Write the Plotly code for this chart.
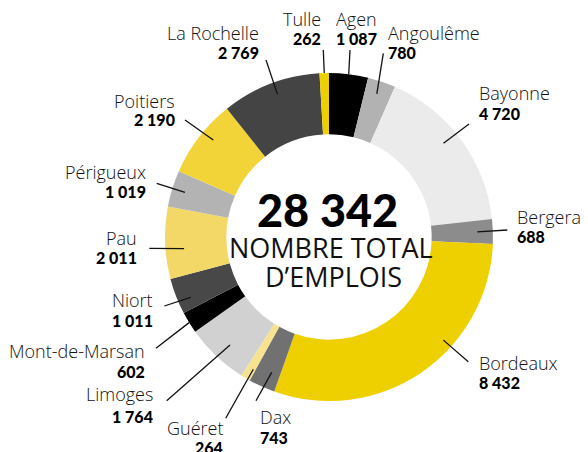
import math
import plotly.graph_objects as go

# ---------------- data ----------------
cities = ["Agen", "Angoulême", "Bayonne", "Bergerac", "Bordeaux", "Dax", "Guéret",
          "Limoges", "Mont-de-Marsan", "Niort", "Pau", "Périgueux", "Poitiers",
          "La Rochelle", "Tulle"]
jobs = [1087, 780, 4720, 688, 8432, 743, 264, 1764, 602, 1011, 2011, 1019, 2190, 2769, 262]
value_labels = ["1 087", "780", "4 720", "688", "8 432", "743", "264", "1 764", "602",
                "1 011", "2 011", "1 019", "2 190", "2 769", "262"]
total_label = "28 342"
center_lines = ["NOMBRE TOTAL", "D’EMPLOIS"]

# ---------------- styles / layout ----------------
colors = ["#000000", "#b2b2b2", "#ebebeb", "#8c8c8c", "#eecf00", "#717171", "#f6e28f",
          "#d1d1d1", "#000000", "#484848", "#f3d867", "#b3b3b3", "#f2d438", "#444444", "#eecf00"]

W, H = 588, 452
OFF = 8  # the page body adds an 8px margin; positions below are in window pixels
CX, CY, R = 329, 237, 164
HOLE = 0.626

# label placement (window pixels): anchor x, align, name centre y, value centre y,
# leader outer end (x, y), leader inner position within slice (fraction, radius)
label_layout = {
    "Tulle":          (323, "right", 19.0, 38.7, (323.3, 50.0), (0.5, 164)),
    "Agen":           (334, "left", 19.0, 38.7, (350.0, 50.0), (0.5, 164)),
    "Angoulême":      (386, "left", 33.0, 52.0, (383.3, 53.3), (0.47, 151)),
    "La Rochelle":    (261, "right", 33.0, 52.0, (266.0, 60.0), (0.53, 151.6)),
    "Bayonne":        (477, "left", 92.5, 113.3, (469.0, 124.0), (0.45, 148)),
    "Bergerac":       (515, "left", 216.8, 237.0, (507.3, 230.0), (0.5, 148.4)),
    "Bordeaux":       (477, "left", 362.7, 382.5, (468.3, 361.7), (0.37, 154)),
    "Dax":            (258, "left", 416.7, 437.5, (256.0, 400.7), (0.365, 147)),
    "Guéret":         (225, "right", 427.8, 447.0, (225.7, 418.3), (0.25, 152.4)),
    "Limoges":        (155, "right", 394.0, 416.0, (166.7, 400.7), (0.456, 146.5)),
    "Mont-de-Marsan": (147, "right", 350.7, 371.0, (156.0, 348.3), (0.5, 164)),
    "Niort":          (155, "right", 299.7, 320.0, (164.3, 306.0), (0.315, 150.9)),
    "Pau":            (139, "right", 238.3, 257.5, (149.3, 248.3), (0.40, 145.4)),
    "Périgueux":      (148, "right", 171.5, 191.3, (156.7, 183.3), (0.5, 150.8)),
    "Poitiers":       (177, "right", 100.7, 119.5, (185.0, 120.0), (0.586, 151)),
}

NAME_FONT = dict(family="Open Sans", size=18, color="#111111", weight=300)
VALUE_FONT = dict(family="Lato", size=16, color="#000000", weight=900)
CENTER_FONT = dict(family="Open Sans", size=27, color="#111111", weight=400)


def px(x):
    return (x - OFF) / W


def py(y):
    return 1 - (y - OFF) / H


fig = go.Figure()
fig.add_trace(go.Pie(
    labels=cities, values=jobs, sort=False, direction="clockwise", rotation=0,
    hole=HOLE, marker=dict(colors=colors, line=dict(width=0)),
    textinfo="none", hoverinfo="label+value", showlegend=False,
    domain=dict(x=[px(CX - R), px(CX + R)], y=[py(CY + R), py(CY - R)]),
))

total = sum(jobs)
cum = 0
shapes = []
annotations = []
for city, v, vl in zip(cities, jobs, value_labels):
    ax, align, ny, vy, (ox, oy), (frac, rr) = label_layout[city]
    ang = 2 * math.pi * (cum + frac * v) / total
    cum += v
    ix = CX + rr * math.sin(ang)
    iy = CY - rr * math.cos(ang)
    shapes.append(dict(type="line", xref="paper", yref="paper",
                       x0=px(ox), y0=py(oy), x1=px(ix), y1=py(iy),
                       line=dict(color="#111111", width=1.3)))
    annotations.append(dict(text=city, x=px(ax), y=py(ny), xref="paper", yref="paper",
                            xanchor=align, yanchor="middle", showarrow=False,
                            font=NAME_FONT))
    annotations.append(dict(text=vl, x=px(ax), y=py(vy), xref="paper", yref="paper",
                            xanchor=align, yanchor="middle", showarrow=False,
                            font=VALUE_FONT))

# centre text
annotations.append(dict(text=total_label, x=px(327), y=py(210), xref="paper", yref="paper",
                        xanchor="center", yanchor="middle", showarrow=False,
                        font=dict(family="Lato", size=45, color="#000000", weight=900)))
annotations.append(dict(text=center_lines[0], x=px(330.5), y=py(247), xref="paper", yref="paper",
                        xanchor="center", yanchor="middle", showarrow=False,
                        font=CENTER_FONT))
annotations.append(dict(text=center_lines[1], x=px(333), y=py(276), xref="paper", yref="paper",
                        xanchor="center", yanchor="middle", showarrow=False,
                        font=CENTER_FONT))

fig.update_layout(width=W, height=H, margin=dict(l=0, r=0, t=0, b=0),
                  paper_bgcolor="white", plot_bgcolor="white",
                  shapes=shapes, annotations=annotations)
fig.write_html("out.html")
